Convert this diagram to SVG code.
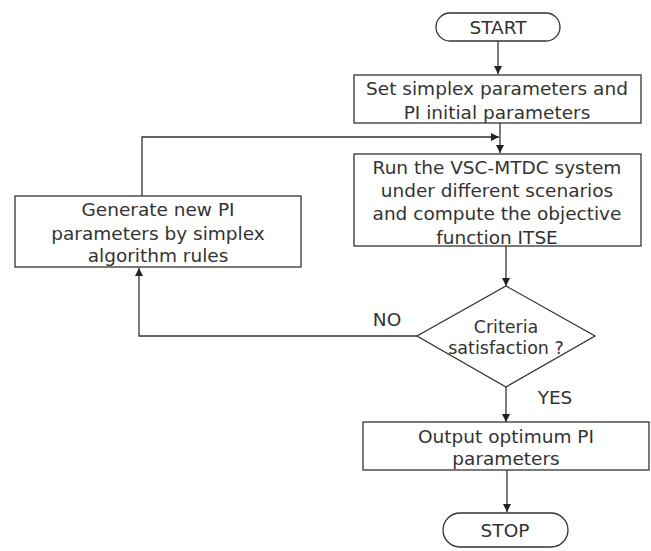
<svg xmlns="http://www.w3.org/2000/svg" width="651" height="551" viewBox="0 0 651 551">
<style>
.s{fill:#fff;stroke:#333;stroke-width:1.3}
.c{fill:none;stroke:#333;stroke-width:1.3}
text{font-family:"DejaVu Sans","Liberation Sans",sans-serif;font-size:18.5px;fill:#333;text-anchor:middle}
.d{font-size:17.5px}
</style>
<defs>
<marker id="a" viewBox="0 0 10 10" refX="10" refY="5" markerWidth="10" markerHeight="8" markerUnits="userSpaceOnUse" orient="auto">
<path d="M0,0 L10,5 L0,10 z" fill="#222"/>
</marker>
</defs>
<rect width="651" height="551" fill="#fff"/>
<g id="connectors">
<line class="c" x1="498" y1="41" x2="498" y2="74" marker-end="url(#a)"/>
<line class="c" x1="500" y1="123" x2="500" y2="153" marker-end="url(#a)"/>
<polyline class="c" points="142,196 142,137 499,137" marker-end="url(#a)"/>
<line class="c" x1="506" y1="246" x2="506" y2="286" marker-end="url(#a)"/>
<polyline class="c" points="417,336 139,336 139,268" marker-end="url(#a)"/>
<line class="c" x1="506" y1="387" x2="506" y2="422" marker-end="url(#a)"/>
<line class="c" x1="507" y1="470" x2="507" y2="512" marker-end="url(#a)"/>
<text x="387" y="326">NO</text>
<text x="555" y="404">YES</text>
</g>
<g id="start">
<rect class="s" x="436" y="13" width="124" height="28" rx="14" ry="14"/>
<text x="498" y="34">START</text>
</g>
<g id="init">
<rect class="s" x="354" y="75" width="287" height="48"/>
<text x="497" y="95">Set simplex parameters and</text>
<text x="497" y="119">PI initial parameters</text>
</g>
<g id="run">
<rect class="s" x="354" y="154" width="287" height="92"/>
<text x="497" y="174">Run the VSC-MTDC system</text>
<text x="497" y="197">under different scenarios</text>
<text x="497" y="220">and compute the objective</text>
<text x="497" y="244">function ITSE</text>
</g>
<g id="generate">
<rect class="s" x="15" y="196" width="286" height="71"/>
<text x="158" y="216">Generate new PI</text>
<text x="158" y="240">parameters by simplex</text>
<text x="158" y="262">algorithm rules</text>
</g>
<g id="criteria">
<polygon class="s" points="506,286 595,336 506,387 417,336"/>
<text class="d" x="506" y="333">Criteria</text>
<text class="d" x="506" y="354">satisfaction ?</text>
</g>
<g id="output">
<rect class="s" x="363" y="422" width="286" height="48"/>
<text x="506" y="443">Output optimum PI</text>
<text x="506" y="465">parameters</text>
</g>
<g id="stop">
<rect class="s" x="443" y="513" width="125" height="34" rx="17" ry="17"/>
<text x="505" y="537">STOP</text>
</g>
</svg>
